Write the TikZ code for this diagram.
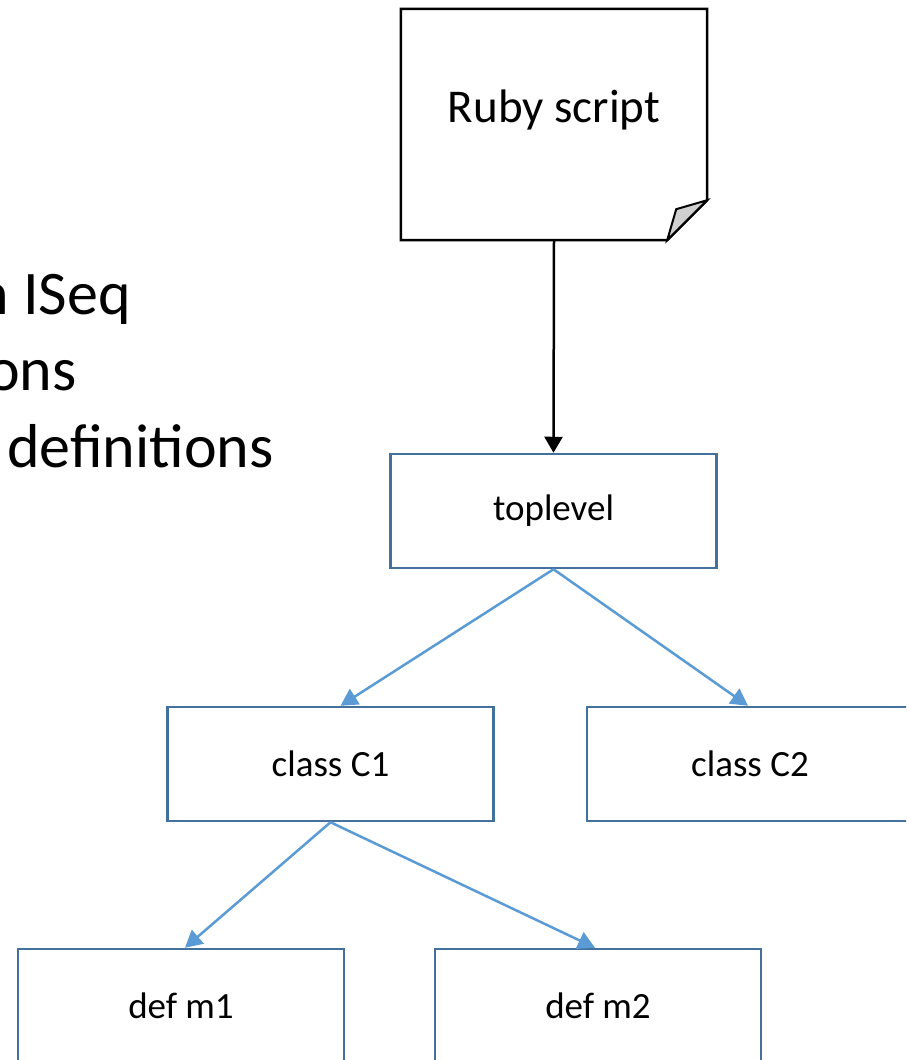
\documentclass[tikz,border=0pt]{standalone}
\usepackage{fontspec}
\setmainfont{Carlito}
\usepackage{tikz}
\usetikzlibrary{calc, shapes, arrows.meta}
\usetikzlibrary{positioning}
\definecolor{boxblue}{HTML}{41719C}
\definecolor{arrowblue}{HTML}{5B9BD5}
\definecolor{foldgray}{HTML}{D0D0D0}
\tikzstyle{iseqbox} = [rectangle, draw=boxblue, line width=2.5pt, text centered, minimum width=326pt, minimum height=114pt, font=\fontsize{37}{44}\selectfont]
\tikzstyle{bigtext} = [inner sep=0pt, font=\fontsize{62}{74}\selectfont]
\tikzstyle{childarrow} = [draw=arrowblue, line width=2.5pt, -{Triangle[length=17pt, width=18pt]}]

\begin{document}
\begin{tikzpicture}[x=1pt, y=-1pt]

        \useasboundingbox (0, 0) rectangle (906, 1060);
        \clip (0, 0) rectangle (906, 1060);

        \node[bigtext, anchor=base east] at (131, 314) (line1) {n ISeq};
        \node[bigtext, anchor=base east] at (77, 390) (line2) {ons};
        \node[bigtext, anchor=base west] at (7, 467) (line3) {definitions};

        \node[minimum width=306pt, minimum height=231pt] at (554, 124.5) (script) {};
        \draw[line width=2.5pt] (script.north west) -- (script.north east) -- ([yshift=40pt]script.south east)
            -- ([xshift=-40pt]script.south east) -- (script.south west) -- cycle;
        \filldraw[fill=foldgray, draw=black, line width=2pt] ([xshift=-40pt]script.south east)
            -- ([xshift=-31pt, yshift=31pt]script.south east) -- ([yshift=40pt]script.south east) -- cycle;
        \node[anchor=base, font=\fontsize{47}{56}\selectfont] at (554, 122) (scriptlabel) {Ruby script};

        \node[iseqbox] at (553.5, 511) (toplevel) {toplevel};
        \node[iseqbox] at (330.5, 764) (classC1) {class C1};
        \node[iseqbox] at (750, 764) (classC2) {class C2};
        \node[iseqbox] at (181, 1006) (defm1) {def m1};
        \node[iseqbox] at (598, 1006) (defm2) {def m2};

        \draw[line width=2.5pt, -{Triangle[length=16pt, width=18pt]}] (script.south) -- (toplevel.north);
        \draw[childarrow] (toplevel.south) -- ([xshift=10pt]classC1.north);
        \draw[childarrow] (toplevel.south) -- ([xshift=-2pt]classC2.north);
        \draw[childarrow] (classC1.south) -- ([xshift=4pt]defm1.north);
        \draw[childarrow] (classC1.south) -- ([xshift=-3pt]defm2.north);

    \end{tikzpicture}
\end{document}
